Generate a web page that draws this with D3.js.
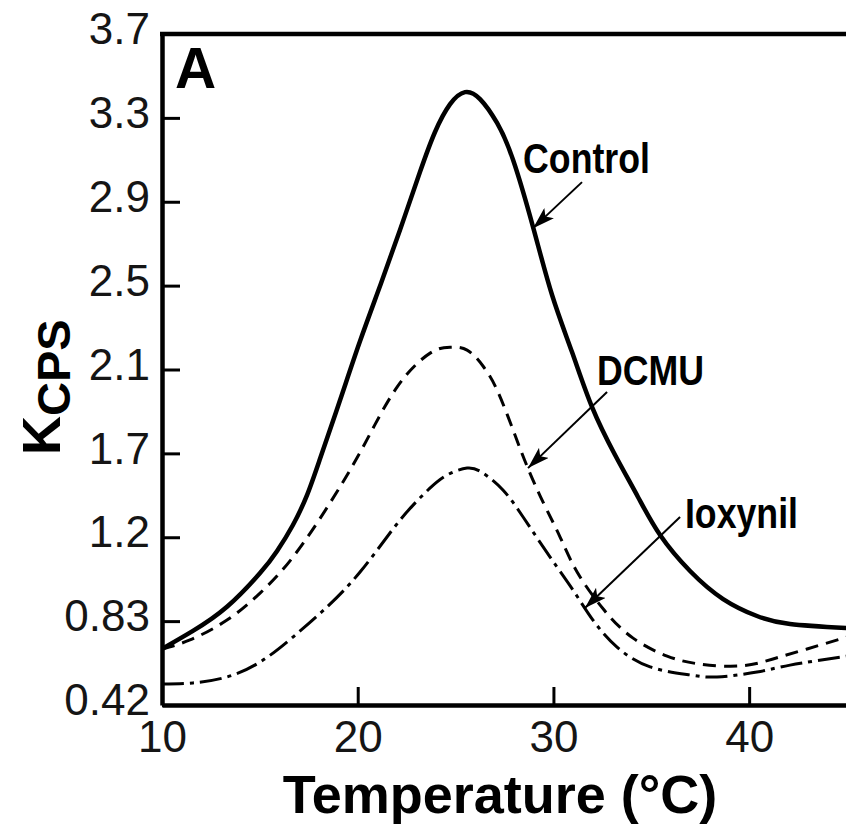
<!DOCTYPE html>
<html>
<head>
<meta charset="utf-8">
<script src="https://cdn.jsdelivr.net/npm/d3@7"></script>
<style>
  body { margin: 0; background: #fff; }
  svg { display: block; }
  .tick text { font-family: "Liberation Sans", Arial, sans-serif; font-size: 44px; fill: #151515; }
  .lbl { font-family: "Liberation Sans", Arial, sans-serif; font-weight: bold; font-size: 43px; fill: #000; }
</style>
</head>
<body>
<script>
// temperature (°C) and KCPS
const controlT = [10, 11.58, 13.32, 15.01, 15.88, 16.69, 17.41, 18.07, 19.1, 20.12, 21.14, 22.16, 23.18, 23.95, 24.72, 25.48, 26.25, 27.12, 27.94, 28.96, 29.93, 30.95, 31.97, 33.15, 34.32, 35.45, 36.98, 38.67, 40.4, 42.09, 45]
const controlV = [0.694, 0.782, 0.9, 1.065, 1.173, 1.3, 1.446, 1.622, 1.911, 2.199, 2.468, 2.742, 3.025, 3.221, 3.357, 3.416, 3.382, 3.265, 3.084, 2.756, 2.424, 2.145, 1.877, 1.642, 1.437, 1.251, 1.075, 0.938, 0.855, 0.816, 0.796]

const dcmuT = [10, 11.43, 13.32, 15.01, 16.69, 18.58, 20.27, 22.01, 23.7, 24.72, 25.59, 26.4, 27.12, 27.94, 28.65, 29.47, 30.34, 31.21, 32.59, 34.07, 35.81, 37.49, 39.54, 41.22, 42.96, 45]
const dcmuV = [0.694, 0.738, 0.835, 0.967, 1.143, 1.407, 1.681, 1.974, 2.14, 2.169, 2.155, 2.077, 1.96, 1.764, 1.588, 1.412, 1.241, 1.07, 0.884, 0.747, 0.659, 0.62, 0.611, 0.645, 0.694, 0.752]

const ioxT = [10, 11.58, 13.32, 15.01, 16.69, 18.43, 20.12, 21.8, 22.83, 23.69, 24.56, 25.59, 26.4, 27.42, 28.45, 29.83, 31.0, 32.02, 33.25, 34.94, 36.98, 38.36, 40.4, 42.09, 45]
const ioxV = [0.523, 0.528, 0.557, 0.63, 0.752, 0.899, 1.07, 1.28, 1.397, 1.48, 1.544, 1.578, 1.554, 1.471, 1.339, 1.143, 0.982, 0.835, 0.703, 0.606, 0.567, 0.557, 0.581, 0.615, 0.659]

const xTicks = [10, 20, 30, 40]
const yTicks = [0.42, 0.83, 1.24, 1.65, 2.06, 2.47, 2.88, 3.29, 3.7]
const yTickLabels = ['0.42', '0.83', '1.2', '1.7', '2.1', '2.5', '2.9', '3.3', '3.7']

// annotation: label anchor, arrow tail, arrow tip (data units)
const notes = [
  {text: 'Control', at: [28.45, 3.02], from: [31.46, 2.976], to: [28.96, 2.751]},
  {text: 'DCMU', at: [32.23, 1.984], from: [32.74, 1.95], to: [28.7, 1.578]},
  {text: 'Ioxynil', at: [36.72, 1.285], from: [36.47, 1.339], to: [31.61, 0.894]}
]

const W = 846, H = 824
const svg = d3.select('body').append('svg')
  .attr('width', W)
  .attr('height', H)

const x = d3.scaleLinear().domain([10, 45]).range([162, 847])
const y = d3.scaleLinear().domain([0.42, 3.7]).range([705, 34])

svg.append('defs').append('marker')
  .attr('id', 'head')
  .attr('markerUnits', 'userSpaceOnUse')
  .attr('viewBox', '0 0 22 14')
  .attr('refX', 22).attr('refY', 7)
  .attr('markerWidth', 22).attr('markerHeight', 14)
  .attr('orient', 'auto')
  .append('path')
  .attr('d', 'M0,0 L22,7 L0,14 L5,7 Z')
  .attr('fill', '#000')

// axes
const xAxis = svg.append('g')
  .attr('transform', `translate(0,${y(0.42)})`)
  .call(d3.axisBottom(x).tickValues(xTicks).tickSizeInner(-18).tickSizeOuter(0).tickPadding(10).tickFormat(d3.format('d')))
xAxis.select('.domain').attr('stroke-width', 4.5).attr('stroke', '#000')
xAxis.selectAll('.tick line').attr('stroke-width', 3)
xAxis.selectAll('.tick text').attr('dy', '0.84em')

const yAxis = svg.append('g')
  .attr('transform', `translate(${x(10)},0)`)
  .call(d3.axisLeft(y).tickValues(yTicks).tickSizeInner(-18).tickSizeOuter(0).tickPadding(12)
    .tickFormat((d, i) => yTickLabels[i]))
yAxis.select('.domain').attr('stroke-width', 4.5).attr('stroke', '#000')
yAxis.selectAll('.tick line').attr('stroke-width', 3)
yAxis.selectAll('.tick text').attr('dy', '0.22em')

// top frame
svg.append('line')
  .attr('x1', x(10) - 2).attr('x2', x(45))
  .attr('y1', y(3.7)).attr('y2', y(3.7))
  .attr('stroke', '#000').attr('stroke-width', 4.5)

// curves
const line = d3.line()
  .x(d => x(d[0]))
  .y(d => y(d[1]))
  .curve(d3.curveNatural)

const series = [
  {t: controlT, v: controlV, w: 4.5, dash: null},
  {t: dcmuT, v: dcmuV, w: 3, dash: '13,8'},
  {t: ioxT, v: ioxV, w: 3, dash: '22,6,4,6'}
]
series.forEach(s => {
  svg.append('path')
    .datum(d3.zip(s.t, s.v))
    .attr('d', line)
    .attr('fill', 'none')
    .attr('stroke', '#000')
    .attr('stroke-width', s.w)
    .attr('stroke-dasharray', s.dash)
})

// annotations (labels set in a condensed face, squeezed horizontally)
notes.forEach(n => {
  svg.append('line')
    .attr('x1', x(n.from[0])).attr('y1', y(n.from[1]))
    .attr('x2', x(n.to[0])).attr('y2', y(n.to[1]))
    .attr('stroke', '#000').attr('stroke-width', 2)
    .attr('marker-end', 'url(#head)')
  svg.append('text')
    .attr('class', 'lbl')
    .attr('transform', `translate(${x(n.at[0])},${y(n.at[1])}) scale(0.83,1)`)
    .text(n.text)
})

svg.append('text')
  .attr('x', 175).attr('y', 88)
  .style('font-family', '"Liberation Sans", Arial, sans-serif')
  .style('font-weight', 'bold').style('font-size', '57px')
  .text('A')

// axis titles
svg.append('text')
  .attr('x', 500).attr('y', 813)
  .attr('text-anchor', 'middle')
  .style('font-family', '"Liberation Sans", Arial, sans-serif')
  .style('font-weight', 'bold').style('font-size', '54px')
  .text('Temperature (°C)')

const yt = svg.append('text')
  .attr('transform', 'translate(60,455) rotate(-90)')
  .style('font-family', '"Liberation Sans", Arial, sans-serif')
  .style('font-weight', 'bold').style('font-size', '54px')
yt.append('tspan').text('K')
yt.append('tspan').attr('dy', 10).style('font-size', '47px').text('CPS')
</script>
</body>
</html>
